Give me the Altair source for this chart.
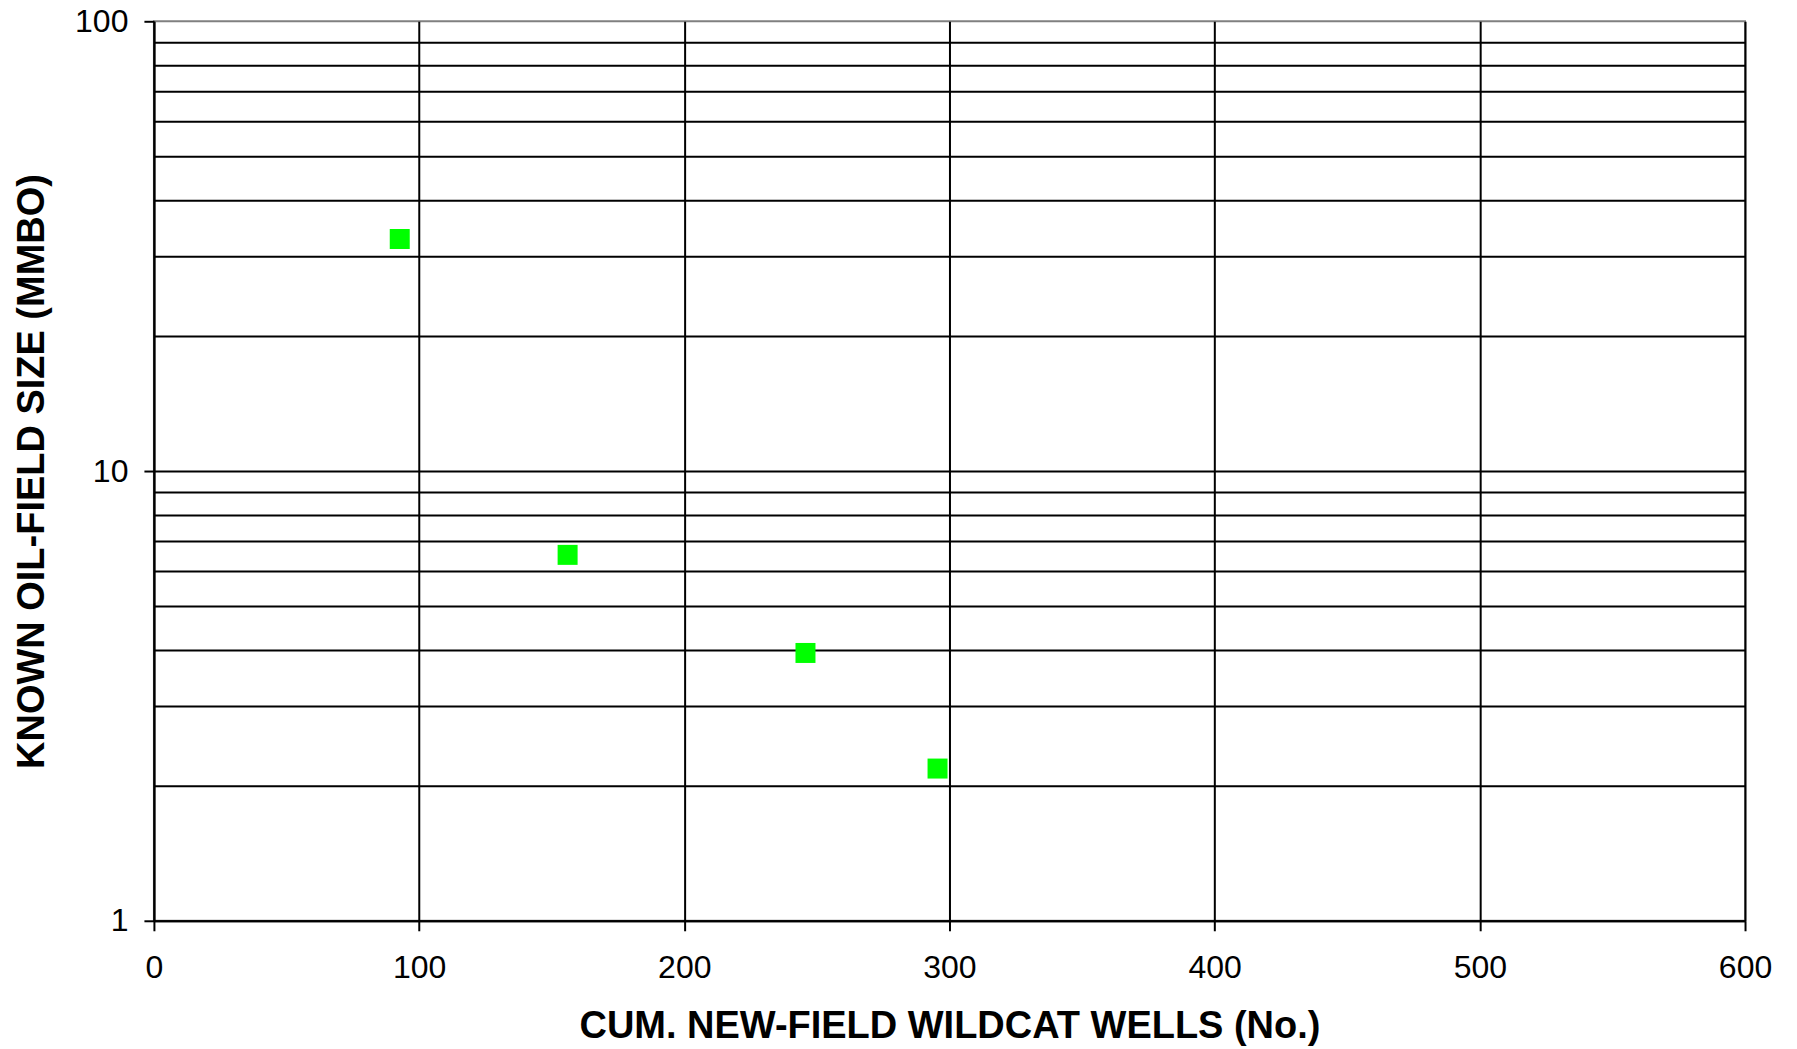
import altair as alt
import pandas as pd

# Data
wells = [92.7, 156.0, 245.7, 295.5]
field_size = [32.8, 6.51, 3.94, 2.18]

x_ticks = [0, 100, 200, 300, 400, 500, 600]
y_grid = [1, 2, 3, 4, 5, 6, 7, 8, 9, 10, 20, 30, 40, 50, 60, 70, 80, 90, 100]
y_labeled = [1, 10, 100]

df = pd.DataFrame({"wells": wells, "size": field_size})

FONT = "Liberation Sans"

x_axis = alt.Axis(
    values=x_ticks,
    title="CUM. NEW-FIELD WILDCAT WELLS (No.)",
    titleFont=FONT, titleFontSize=38, titleFontWeight="bold", titleColor="black",
    titleBaseline="middle", titleX=796, titleY=106,
    labelFont=FONT, labelFontSize=32, labelColor="black", labelPadding=22,
    labelFlush=False, labelOverlap=False,
    tickSize=10, tickColor="black", tickWidth=2,
    domainColor="black", domainWidth=2,
    grid=True, gridColor="black", gridWidth=2, gridOpacity=1,
)

y_axis = alt.Axis(
    values=y_grid,
    title="KNOWN OIL-FIELD SIZE (MMBO)",
    titleFont=FONT, titleFontSize=38, titleFontWeight="bold", titleColor="black",
    titleAngle=-90, titleBaseline="middle", titleAlign="center",
    titleX=-121, titleY=450,
    labelFont=FONT, labelFontSize=32, labelColor="black", labelPadding=16,
    labelFlush=False, labelOverlap=False,
    labelExpr="indexof([1, 10, 100], datum.value) >= 0 ? format(datum.value, 'd') : ''",
    tickSize=10, tickColor="black", tickWidth=2,
    tickOpacity={"condition": {"test": "indexof([1, 10, 100], datum.value) >= 0", "value": 1}, "value": 0},
    domainColor="black", domainWidth=2,
    grid=True, gridColor="black", gridWidth=2,
    gridOpacity={"condition": {"test": "datum.value == 100", "value": 0}, "value": 1},
)

chart = (
    alt.Chart(df)
    .mark_square(size=400, color="#00FF00", opacity=1, strokeWidth=0)
    .encode(
        x=alt.X("wells:Q", scale=alt.Scale(domain=[0, 600], nice=False, zero=False), axis=x_axis),
        y=alt.Y("size:Q", scale=alt.Scale(type="log", domain=[1, 100], nice=False), axis=y_axis),
    )
    .properties(
        width=1592,
        height=900,
        padding={"left": 146, "top": 13, "right": 44, "bottom": 126},
        autosize=alt.AutoSizeParams(type="none"),
        background="white",
    )
    .configure_view(stroke="#808080", strokeWidth=2)
)

chart.save("out.html", embed_options={"renderer": "svg", "actions": False})
